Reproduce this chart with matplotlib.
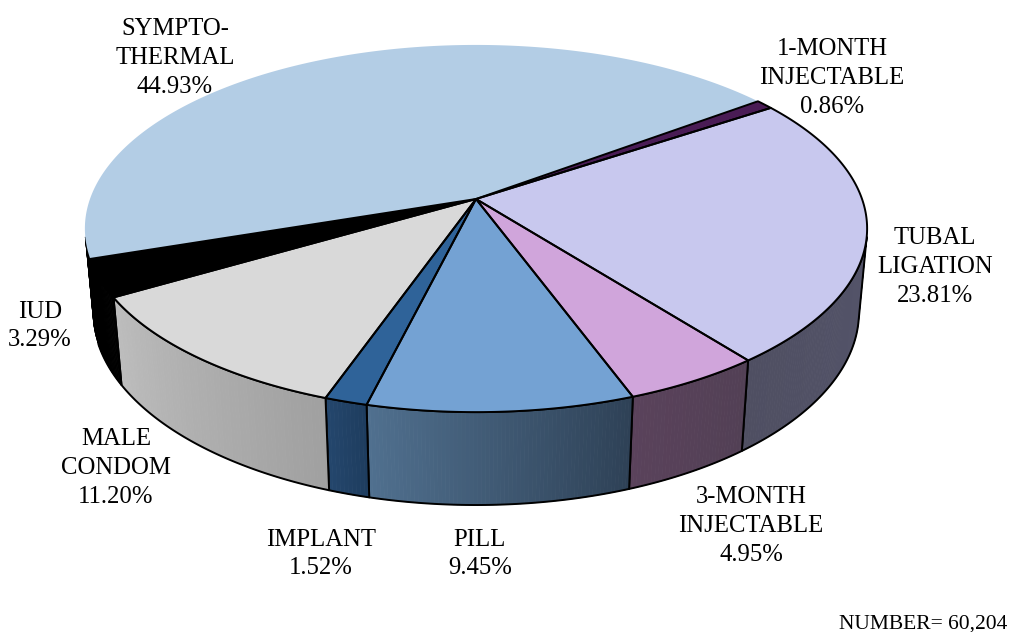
import numpy as np
import matplotlib
matplotlib.use("Agg")
import matplotlib.pyplot as plt
from matplotlib.patches import Polygon
from matplotlib.colors import to_rgb

# ---------------- data ----------------
categories = ["1-MONTH\nINJECTABLE", "TUBAL\nLIGATION", "3-MONTH\nINJECTABLE", "PILL",
              "IMPLANT", "MALE\nCONDOM", "IUD", "SYMPTO-\nTHERMAL"]
values = [0.86, 23.81, 4.95, 9.45, 1.52, 11.20, 3.29, 44.93]
total_label = "NUMBER= 60,204"

# ---------------- styles ----------------
top_colors = ["#4A1C55", "#C8C8EE", "#D0A5DB", "#74A2D3", "#2F6399", "#D9D9D9", "#000000", "#B3CDE5"]
wall_left = ["#3A1543", "#4F4F62", "#5A425B", "#50708F", "#24476D", "#BDBDBD", "#000000", "#000000"]
wall_right = ["#3A1543", "#54546A", "#524055", "#2E4156", "#1E3C5E", "#A0A0A0", "#000000", "#000000"]
has_edge = [True, True, True, True, True, True, True, False]
label_xy = [(832, 78), (935, 267), (751, 526), (480, 554), (321, 554), (116, 468), (40, 326), (175, 58)]

# ---------------- projection ----------------
CX, CY = 476.0, 199.0
FOC, DIST = 2127.0, 5.51
SPHI, CPHI = 0.4633, 0.886
H = 0.2465
START = np.deg2rad(36.8)


def proj(t, z):
    x = np.cos(t)
    y = np.sin(t)
    v = y * SPHI + z * CPHI
    d = DIST + y * CPHI - z * SPHI
    return CX + FOC * x / d, CY - FOC * v / d


fig = plt.figure(figsize=(10.10, 6.32), dpi=100)
ax = fig.add_axes([0, 0, 1, 1])
ax.set_xlim(0, 1010)
ax.set_ylim(632, 0)
ax.axis("off")

vals = np.array(values, dtype=float)
frac = vals / vals.sum()
cum = np.concatenate([[0], np.cumsum(frac)])
t_starts = START - 2 * np.pi * cum[:-1]
t_ends = START - 2 * np.pi * cum[1:]

t_sil_r = np.arcsin(-1.0 / (DIST * CPHI))
t_sil_l = -np.pi - t_sil_r

LW = 1.4

# walls
for i in range(len(vals)):
    a = min(t_starts[i], t_sil_r)
    b = max(t_ends[i], t_sil_l)
    if a <= b:
        continue
    n = max(int(np.degrees(a - b)) * 2, 2)
    ts = np.linspace(a, b, n + 1)
    cl = np.array(to_rgb(wall_left[i]))
    cr = np.array(to_rgb(wall_right[i]))
    for k in range(n):
        seg = ts[k:k + 2]
        xt, yt = proj(seg, 0.0)
        xb, yb = proj(seg[::-1], -H)
        pts = np.column_stack([np.concatenate([xt, xb]), np.concatenate([yt, yb])])
        fr = (0.5 * (seg[0] + seg[1]) - a) / (b - a)
        col = cr * (1 - fr) + cl * fr
        ax.add_patch(Polygon(pts, closed=True, facecolor=col, edgecolor=col, lw=0.6))
    xt, yt = proj(ts, 0.0)
    xb, yb = proj(ts[::-1], -H)
    pts = np.column_stack([np.concatenate([xt, xb]), np.concatenate([yt, yb])])
    ax.add_patch(Polygon(pts, closed=True, facecolor="none",
                         edgecolor="black" if has_edge[i] else "none", lw=LW, joinstyle="round"))

# top faces
tops = []
for i in range(len(vals)):
    ts = np.linspace(t_starts[i], t_ends[i], max(int(np.degrees(t_starts[i] - t_ends[i])) * 2, 4))
    xt, yt = proj(ts, 0.0)
    pts = np.column_stack([np.concatenate([[CX], xt]), np.concatenate([[CY], yt])])
    tops.append(pts)
    ax.add_patch(Polygon(pts, closed=True, facecolor=top_colors[i], edgecolor="none"))
for i in range(len(vals)):
    if has_edge[i]:
        ax.add_patch(Polygon(tops[i], closed=True, facecolor="none", edgecolor="black",
                             lw=LW, joinstyle="round"))

# labels
for i in range(len(vals)):
    x, y = label_xy[i]
    ax.text(x, y, f"{categories[i]}\n{values[i]:.2f}%", ha="center", va="center",
            fontsize=17.8, family="Liberation Serif", linespacing=1.4, color="black")

ax.text(1007, 629, total_label, ha="right", va="baseline", fontsize=15.5,
        family="Liberation Serif", color="black")

fig.savefig("out.png", dpi=100)
